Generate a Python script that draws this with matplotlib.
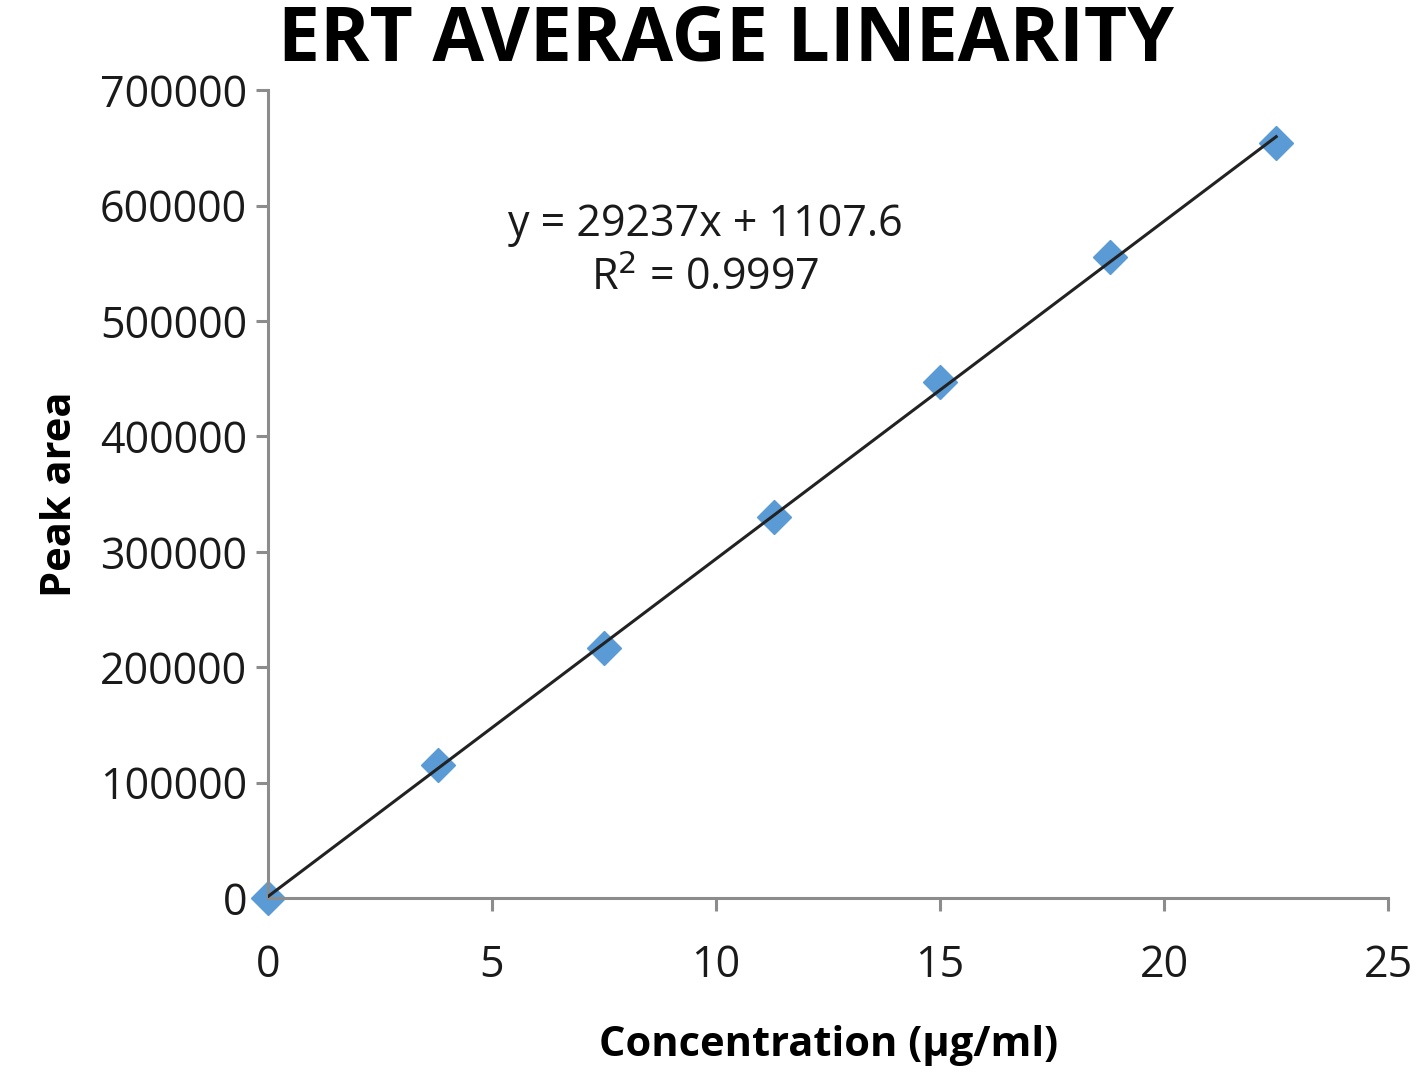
import numpy as np
import matplotlib.pyplot as plt

plt.rcParams['font.family'] = ['Open Sans', 'DejaVu Sans']

# concentration (µg/ml) and mean peak area
conc = [0, 3.8, 7.5, 11.3, 15, 18.8, 22.5]
area = [0, 115000, 217000, 330000, 447000, 555000, 654000]

x_ticks = [0, 5, 10, 15, 20, 25]
y_ticks = [0, 100000, 200000, 300000, 400000, 500000, 600000, 700000]

fig = plt.figure(figsize=(14.18, 10.73), dpi=100)
ax = fig.add_axes([0.189, 0.163, 0.790, 0.753])

ax.plot(conc, area, linestyle='none', marker='D', markersize=17,
        color='#5b9bd5', zorder=2, clip_on=False)

# linear trendline over the data range
slope, icpt = np.polyfit(conc, area, 1)
xs = np.array([min(conc), max(conc)])
ax.plot(xs, slope * xs + icpt, color='#222222', lw=2.2, zorder=3)

ax.set_xlim(0, 25)
ax.set_ylim(0, 700000)
ax.set_xticks(x_ticks)
ax.set_yticks(y_ticks)
ax.set_xticklabels([str(v) for v in x_ticks])
ax.set_yticklabels([str(v) for v in y_ticks])

for s in ['top', 'right']:
    ax.spines[s].set_visible(False)
for s in ['left', 'bottom']:
    ax.spines[s].set_color('#8c8c8c')
    ax.spines[s].set_linewidth(2.2)
ax.tick_params(axis='both', colors='#8c8c8c', width=2.2, length=9,
               labelsize=31, labelcolor='#1a1a1a')
ax.tick_params(axis='x', pad=24)
ax.tick_params(axis='y', pad=6)

ax.set_xlabel('Concentration (µg/ml)', fontsize=30, fontweight='bold',
              labelpad=26)
ax.set_ylabel('Peak area', fontsize=30, fontweight='bold', labelpad=14)

ax.text(9.75, 560000, 'y = 29237x + 1107.6\nR$^2$ = 0.9997', fontsize=31,
        ha='center', va='center', linespacing=1.3, color='#1a1a1a')

fig.text(0.512, 0.997, 'ERT AVERAGE LINEARITY', fontsize=54,
         fontweight='bold', ha='center', va='top')

fig.savefig('out.png', dpi=100)
